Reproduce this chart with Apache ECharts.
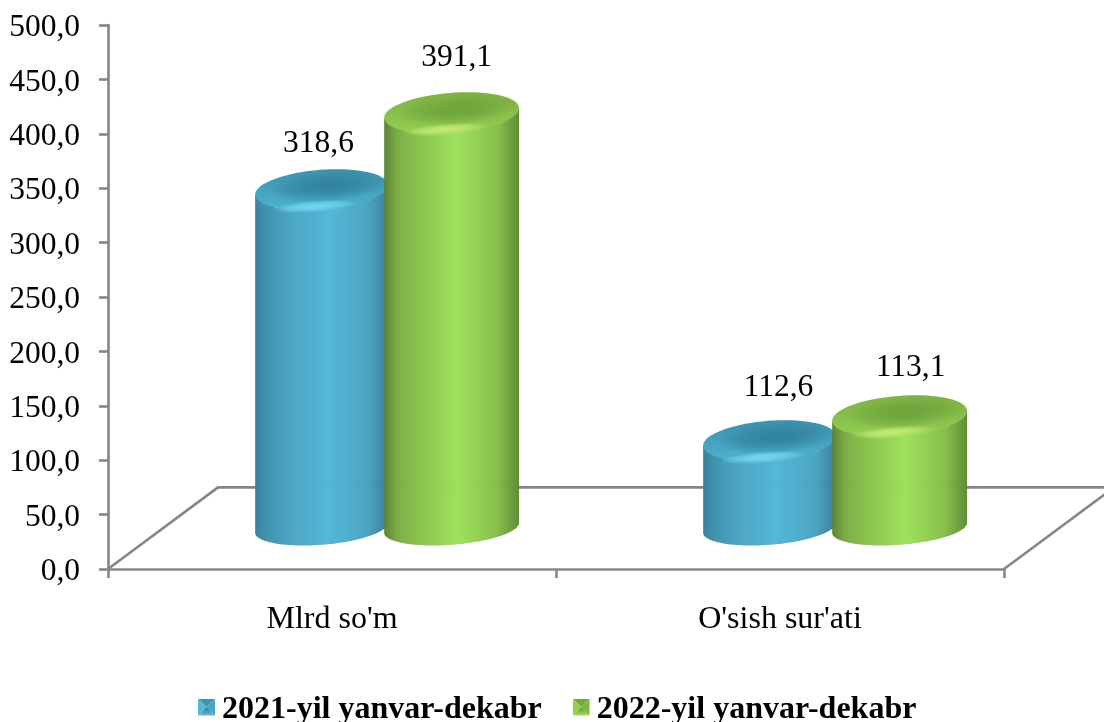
<!DOCTYPE html>
<html>
<head>
<meta charset="utf-8">
<style>
  html, body { margin: 0; padding: 0; background: #fff; }
  #chart { width: 1104px; height: 722px; }
</style>
<script src="https://cdn.jsdelivr.net/npm/echarts@6/dist/echarts.min.js"></script>
</head>
<body>
<div id="chart"></div>
<script>
const categories = ["Mlrd so'm", "O'sish sur'ati"]
const seriesNames = ['2021-yil yanvar-dekabr', '2022-yil yanvar-dekabr']

// Printed labels
const labels2021 = ['318,6', '112,6']
const labels2022 = ['391,1', '113,1']

// Heights as drawn in the picture. The second group's bars are shorter than their printed labels.
const heights2021 = [318.6, 82]
const heights2022 = [391.1, 105.5]

const FONT = '"Liberation Serif", "Times New Roman", serif'
const LINE = '#868686'
const FLOOR_DEPTH_VALUE = 75 // back edge of the floor, in axis units
const FLOOR_DEPTH_X = 110
const BAR_LIFT = 31 // bars stand a bit behind the front edge of the floor
const BAR_SCALE = 0.975
const TILT = 4.5 * Math.PI / 180
const TOP_MINOR = 20
const BOTTOM_MINOR = 17

const blue = {
  side: ['#357f99', '#3f93af', '#48a6c5', '#50b6d5', '#48a4c2', '#377f99'],
  rim: ['#3f90aa', '#48a8c6', '#4db2d1'],
  dark: '#2f7a93',
  glow: '#80e8ff',
}
const green = {
  side: ['#5a8330', '#7bad43', '#8bc54e', '#9de059', '#85bd49', '#5e8832'],
  rim: ['#80af47', '#8cc54e', '#93cf54'],
  dark: '#699639',
  glow: '#d2fa86',
}

// tilted ellipse outline, from angle a0 to a1
function ellipsePoints(cx, cy, a, b, a0, a1, n) {
  const pts = []
  for (let i = 0; i <= n; i++) {
    const t = a0 + (a1 - a0) * i / n
    const ex = a * Math.cos(t)
    const ey = b * Math.sin(t)
    pts.push([cx + ex * Math.cos(TILT) + ey * Math.sin(TILT), cy - ex * Math.sin(TILT) + ey * Math.cos(TILT)])
  }
  return pts
}

function sideGradient(c) {
  return new echarts.graphic.LinearGradient(0, 0, 1, 0, [
    { offset: 0, color: c[0] },
    { offset: 0.1, color: c[1] },
    { offset: 0.28, color: c[2] },
    { offset: 0.55, color: c[3] },
    { offset: 0.84, color: c[4] },
    { offset: 1, color: c[5] },
  ])
}

function rimGradient(c) {
  return new echarts.graphic.LinearGradient(0, 0, 0, 1, [
    { offset: 0, color: c[0] },
    { offset: 0.7, color: c[1] },
    { offset: 1, color: c[2] },
  ])
}

// stacked see-through ellipses stand in for a soft blurred spot
function softSpot(cx, cy, a, b, color, steps, alpha) {
  const out = []
  for (let i = 0; i < steps; i++) {
    const k = 1 - i / steps * 0.85
    out.push({
      type: 'polygon',
      shape: { points: ellipsePoints(cx, cy, a * k, b * k, 0, Math.PI * 2, 48) },
      style: { fill: color, opacity: alpha },
    })
  }
  return out
}

function cylinderItem(labels, labelNudge, palette, offsetLeft, offsetRight) {
  return function (params, api) {
    const band = api.size([1, 0])[0]
    const center = api.coord([api.value(0), 0])[0]
    const left = center + band * offsetLeft
    const right = center + band * offsetRight
    const cx = (left + right) / 2
    const a = (right - left) / 2
    const baseY = api.coord([0, BAR_LIFT])[1] - 7.5
    const topY = baseY - api.size([0, api.value(1)])[1] * BAR_SCALE
    const nudge = labelNudge[params.dataIndex]

    const bottomArc = ellipsePoints(cx, baseY, a, BOTTOM_MINOR, Math.PI, 0, 48)
    const topArc = ellipsePoints(cx, topY, a, TOP_MINOR, 0, Math.PI, 4)
    const topEllipse = ellipsePoints(cx, topY, a, TOP_MINOR, 0, Math.PI * 2, 72)

    return {
      type: 'group',
      children: [
        {
          type: 'polygon',
          shape: { points: bottomArc.concat(topArc) },
          style: { fill: sideGradient(palette.side), opacity: 0.98 },
        },
        {
          type: 'polygon',
          shape: { points: topEllipse },
          style: { fill: rimGradient(palette.rim) },
        },
      ]
        .concat(softSpot(cx + 6, topY - 3, a * 0.85, TOP_MINOR * 0.72, palette.dark, 10, 0.09))
        .concat(softSpot(cx - 6, topY + TOP_MINOR - 3.5, a * 0.62, 5.5, palette.glow, 10, 0.12))
        .concat([
          {
            type: 'text',
            style: {
              text: labels[params.dataIndex],
              x: cx + nudge[0],
              y: topY - TOP_MINOR + nudge[1],
              align: 'center',
              verticalAlign: 'middle',
              font: '31.5px ' + FONT,
              fill: '#000',
            },
          },
        ]),
    }
  }
}

function floorItem(params, api) {
  const band = api.size([1, 0])[0]
  const y0 = api.coord([0, 0])[1]
  const y1 = api.coord([0, FLOOR_DEPTH_VALUE])[1]
  const x0 = api.coord([0, 0])[0] - band / 2
  const x1 = api.coord([categories.length - 1, 0])[0] + band / 2
  return {
    type: 'polyline',
    shape: {
      points: [
        [x0, y0],
        [x0 + FLOOR_DEPTH_X, y1],
        [x1 + FLOOR_DEPTH_X, y1],
        [x1, y0],
      ],
    },
    style: { stroke: LINE, lineWidth: 2.6, fill: 'none' },
  }
}

// bevelled legend swatch, drawn in the top of a taller box so it sits level with the text
function legendIcon(top, left, right, bottomDark, bottomLight) {
  const svg = '<svg xmlns="http://www.w3.org/2000/svg" width="17" height="23">' +
    '<defs><linearGradient id="b" x1="0" y1="0" x2="0" y2="1">' +
    '<stop offset="0" stop-color="' + bottomDark + '"/><stop offset="1" stop-color="' + bottomLight + '"/>' +
    '</linearGradient></defs>' +
    '<polygon points="0,0 17,0 8.5,8.5" fill="' + top + '"/>' +
    '<polygon points="0,0 0,17 8.5,8.5" fill="' + left + '"/>' +
    '<polygon points="17,0 17,17 8.5,8.5" fill="' + right + '"/>' +
    '<polygon points="0,17 17,17 8.5,8.5" fill="url(#b)"/></svg>'
  return 'image://data:image/svg+xml;charset=utf-8,' + encodeURIComponent(svg)
}

const myChart = echarts.init(document.getElementById('chart'), null, { renderer: 'canvas' })

const option = {
  animation: false,
  backgroundColor: '#fff',
  grid: { left: 108, right: 100, top: 25, bottom: 153 },
  legend: {
    left: 193,
    top: 689,
    itemWidth: 17,
    itemHeight: 23,
    itemGap: 31,
    textStyle: { fontFamily: FONT, fontSize: 32, fontWeight: 'bold', color: '#000', padding: [0, 0, 0, 2] },
    data: [
      { name: seriesNames[0], icon: legendIcon('#3f93ae', '#55b8d6', '#4aa5c2', '#2f7690', '#62bfdb') },
      { name: seriesNames[1], icon: legendIcon('#6fa83f', '#90d050', '#7ab840', '#5d8f30', '#a4e060') },
    ],
  },
  xAxis: {
    type: 'category',
    data: categories,
    axisLine: { lineStyle: { color: LINE, width: 2.6 } },
    axisTick: { show: true, length: 9, lineStyle: { color: LINE, width: 2.6 } },
    axisLabel: { fontFamily: FONT, fontSize: 32, color: '#000', margin: 35 },
  },
  yAxis: {
    type: 'value',
    min: 0,
    max: 500,
    interval: 50,
    splitLine: { show: false },
    axisLine: { show: true, lineStyle: { color: LINE, width: 2.6 } },
    axisTick: { show: true, length: 9, lineStyle: { color: LINE, width: 2.6 } },
    axisLabel: {
      color: '#000',
      margin: 28,
      // the tick labels sit a little below their ticks
      formatter: (v) => '{t|' + v.toFixed(1).replace('.', ',') + '}',
      rich: {
        t: { fontFamily: FONT, fontSize: 31.5, color: '#000', padding: [6, 0, 0, 0] },
      },
    },
  },
  series: [
    {
      type: 'custom',
      silent: true,
      z: 1,
      renderItem: floorItem,
      data: [[0, 0]],
    },
    {
      name: seriesNames[0],
      type: 'custom',
      z: 2,
      renderItem: cylinderItem(labels2021, [[-3, -26], [9, -33]], blue, -0.172, 0.125),
      data: heights2021.map((v, i) => [i, v]),
    },
    {
      name: seriesNames[1],
      type: 'custom',
      z: 3,
      renderItem: cylinderItem(labels2022, [[5, -35], [11, -28]], green, 0.116, 0.418),
      data: heights2022.map((v, i) => [i, v]),
    },
  ],
}

myChart.setOption(option)
</script>
</body>
</html>
